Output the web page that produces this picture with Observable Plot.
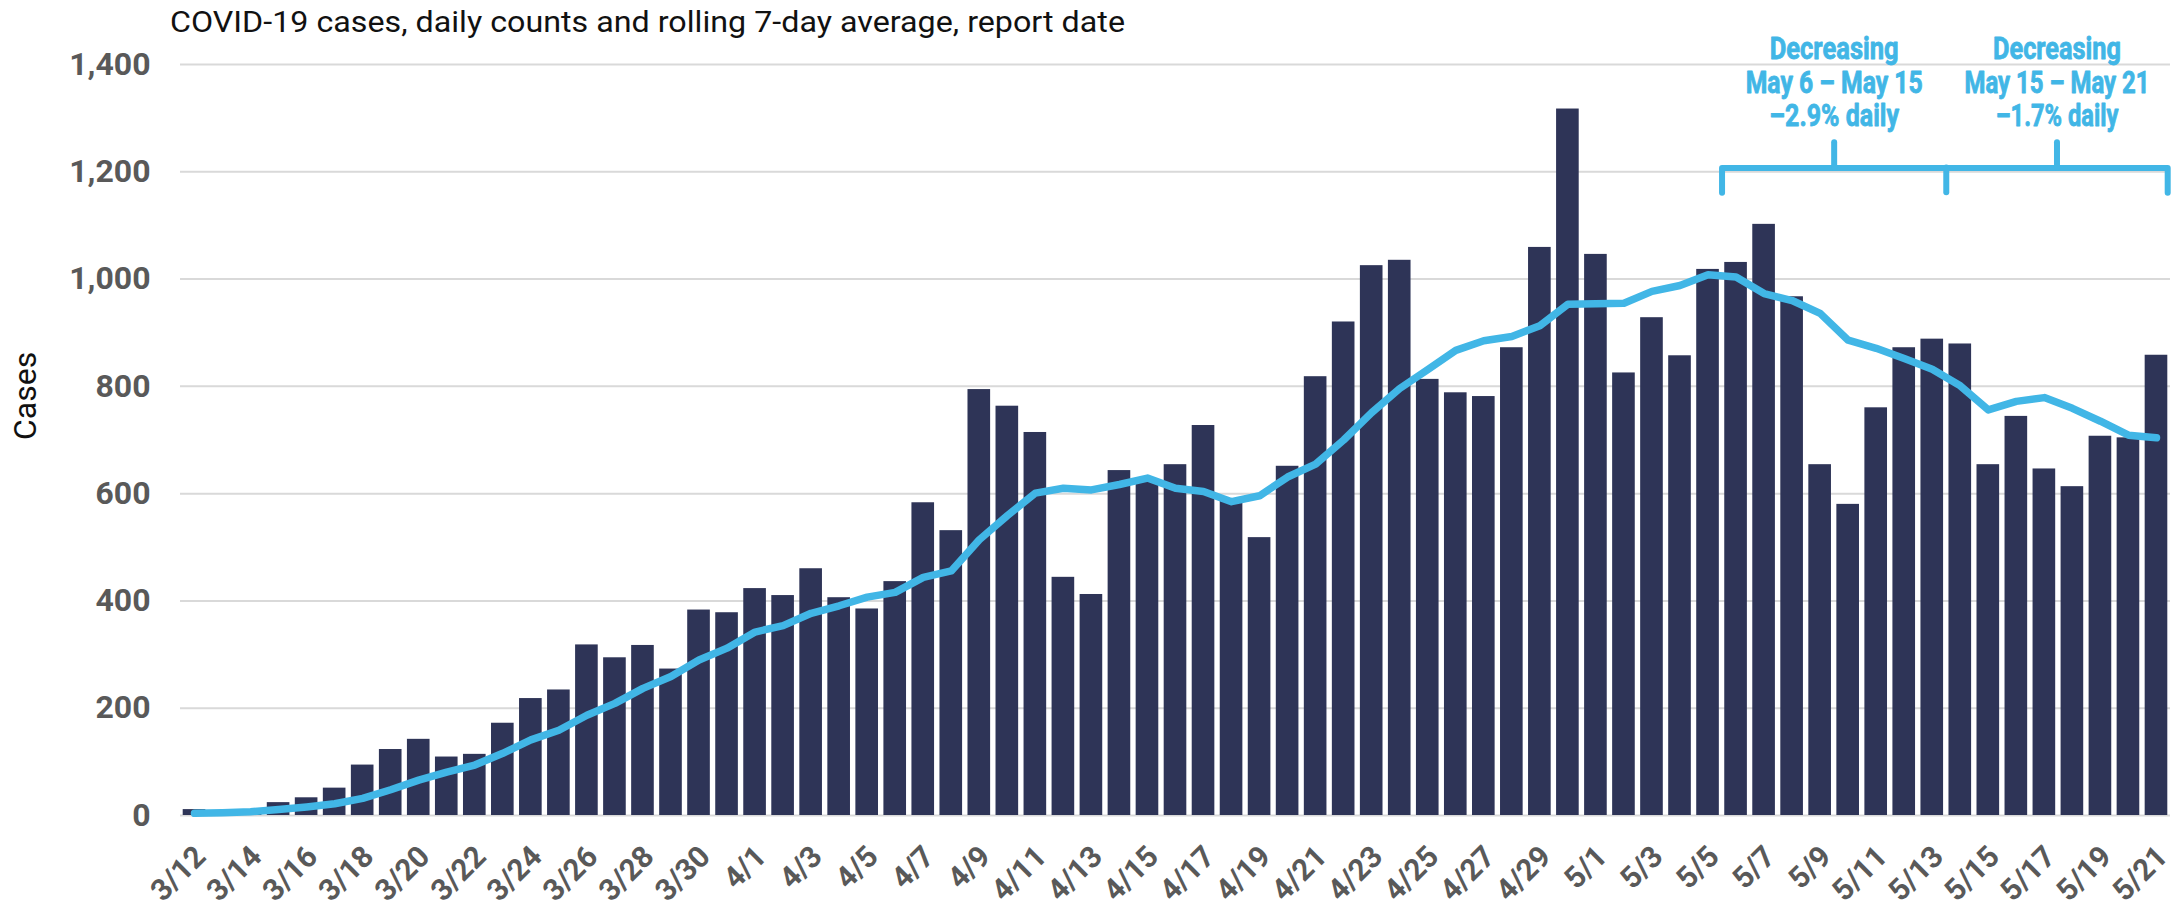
<!DOCTYPE html>
<html><head><meta charset="utf-8">
<script src="https://cdn.jsdelivr.net/npm/d3@7"></script>
<script src="https://cdn.jsdelivr.net/npm/@observablehq/plot@0.6"></script>
<style>
body{margin:0;background:#fff;}
#wrap{position:relative;width:2174px;height:909px;}
#title{position:absolute;left:170px;top:8px;font-family:Roboto,sans-serif;font-size:29px;line-height:29px;color:#111;white-space:nowrap;transform-origin:0 0;}
</style></head><body>
<div id="wrap"><div id="chart"></div><div id="title">COVID-19 cases, daily counts and rolling 7-day average, report date</div></div>
<script>
const dates = ["3/12","3/13","3/14","3/15","3/16","3/17","3/18","3/19","3/20","3/21","3/22","3/23","3/24","3/25","3/26","3/27","3/28","3/29","3/30","3/31",
"4/1","4/2","4/3","4/4","4/5","4/6","4/7","4/8","4/9","4/10","4/11","4/12","4/13","4/14","4/15","4/16","4/17","4/18","4/19","4/20","4/21","4/22","4/23","4/24","4/25","4/26","4/27","4/28","4/29","4/30",
"5/1","5/2","5/3","5/4","5/5","5/6","5/7","5/8","5/9","5/10","5/11","5/12","5/13","5/14","5/15","5/16","5/17","5/18","5/19","5/20","5/21"];
const dailyCases = [11,5,8,24,33,51,94,123,142,109,114,172,218,234,318,294,317,273,383,378,
423,410,460,406,385,436,583,531,794,763,714,444,412,643,625,654,727,590,518,651,818,920,1025,1035,813,788,781,872,1059,1317,
1046,825,928,857,1018,1031,1102,967,654,580,760,872,888,879,654,744,646,613,707,704,858];
const rollingAvg = [4,5,7,11,16,22,32,48,66,81,94,116,141,159,187,209,237,259,290,312,
342,354,377,391,407,416,444,456,514,559,601,610,607,617,629,610,604,585,596,631,655,700,751,796,831,867,885,893,913,953,
954,955,977,988,1008,1004,973,960,936,886,871,852,832,801,756,772,779,759,735,709,704];
const xTickLabels = ["3/12","3/14","3/16","3/18","3/20","3/22","3/24","3/26","3/28","3/30","4/1","4/3","4/5","4/7","4/9","4/11","4/13","4/15","4/17","4/19","4/21","4/23","4/25","4/27","4/29","5/1","5/3","5/5","5/7","5/9","5/11","5/13","5/15","5/17","5/19","5/21"];
const yTicks = [0,200,400,600,800,1000,1200,1400];
const periodLabels = [
  ["Decreasing","May 6 – May 15","–2.9% daily"],
  ["Decreasing","May 15 – May 21","–1.7% daily"]
];
const periodBounds = [["5/6","5/14"],["5/14","5/21"]];

const rows = dates.map((d,i)=>({i, date:d, cases:dailyCases[i], avg:rollingAvg[i]}));
const idx = d => dates.indexOf(d);

// bracket geometry in data units
const bTop = 1207, bDrop = 1161, bTick = 1254;
const spans = periodBounds.map(([a,b],k)=>{
  const x1 = idx(a) - 0.5;
  const x2 = k === periodBounds.length-1 ? idx(b) + 0.4 : idx(b) - 0.5;
  return {x1, x2, mid:(x1+x2)/2};
});
const bracketPath = [
  {x:spans[0].x1, y:bDrop},{x:spans[0].x1, y:bTop},{x:spans[1].x2, y:bTop},{x:spans[1].x2, y:bDrop}
];
const bracketRules = [
  {x:spans[0].x2, y1:bDrop, y2:bTop},
  ...spans.map(s=>({x:s.mid, y1:bTop, y2:bTick}))
];
const lineYs = [1429,1366,1304];
const lineWidths = [[129,177,130],[128,185,123]]; // target rendered widths (px) of the condensed annotation lines
const annoRows = [];
spans.forEach((s,k)=>periodLabels[k].forEach((t,j)=>annoRows.push({x:s.mid, y:lineYs[j], text:t, w:lineWidths[k][j]})));

const blue = "#41B6E6", navy = "#2E3457", gray = "#595959";

const plot = Plot.plot({
  width: 2174, height: 909,
  marginTop: 64, marginBottom: 94, marginLeft: 180, marginRight: 4,
  style: {fontFamily: "Roboto, sans-serif", background: "white", overflow: "visible"},
  x: {type: "linear", domain: [-0.5, dates.length - 0.5]},
  y: {domain: [0, 1400]},
  marks: [
    Plot.gridY(yTicks, {stroke: "#d9d9d9", strokeOpacity: 1, strokeWidth: 2}),
    Plot.rectY(rows, {x1: d => d.i - 0.5, x2: d => d.i + 0.5, y: "cases", fill: navy, insetLeft: 2.7, insetRight: 2.7}),
    Plot.line(rows, {x: "i", y: "avg", stroke: blue, strokeWidth: 7.5, strokeLinecap: "round", strokeLinejoin: "round"}),
    Plot.line(bracketPath, {x: "x", y: "y", stroke: blue, strokeWidth: 6, strokeLinecap: "round", strokeLinejoin: "round"}),
    Plot.ruleX(bracketRules, {x: "x", y1: "y1", y2: "y2", stroke: blue, strokeWidth: 6, strokeLinecap: "round"}),
    Plot.axisY({ticks: yTicks, tickFormat: d3.format(","), tickSize: 0, tickPadding: 30, fontSize: 32, fontWeight: "bold", color: gray, label: null}),
    Plot.axisX({ticks: xTickLabels.map(idx), tickFormat: i => dates[i], tickSize: 0, tickRotate: -45, tickPadding: 36, dx: 6, fontSize: 30, fontWeight: "bold", color: gray, label: null}),
    Plot.text(["Cases"], {frameAnchor: "left", dx: -155, rotate: -90, fontSize: 32, fill: "#111"}),
    Plot.text(annoRows, {x: "x", y: "y", text: "text", fill: blue, fontSize: 31, fontWeight: "bold", stroke: blue, strokeWidth: 0.8})
  ]
});
document.getElementById("chart").appendChild(plot);

// horizontally condense the annotation lines to the reference's narrow type
const annoTexts = new Set(annoRows.map(r => r.text));
const seen = {};
plot.querySelectorAll("text").forEach(t => {
  const s = t.textContent;
  if (!annoTexts.has(s)) return;
  seen[s] = (seen[s] || 0);
  const row = annoRows.filter(r => r.text === s)[seen[s]++];
  const w = t.getBBox().width;
  if (w > 0 && row) {
    const tr = t.getAttribute("transform") || "";
    t.setAttribute("transform", tr + ` scale(${(row.w / w).toFixed(4)},1)`);
  }
});
const title = document.getElementById("title");
const tw = title.getBoundingClientRect().width;
title.style.transform = `scaleX(${955 / tw})`;
</script>
</body></html>
